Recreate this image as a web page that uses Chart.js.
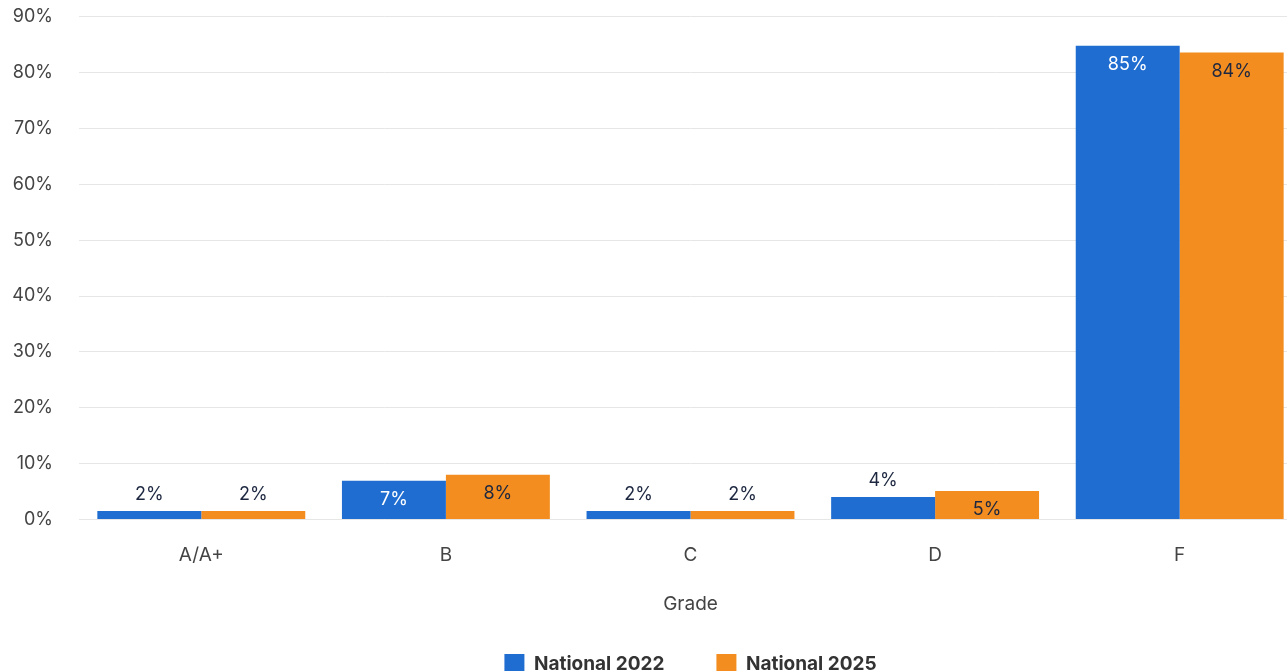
<!DOCTYPE html>
<html>
<head>
<meta charset="utf-8">
<script src="https://cdn.jsdelivr.net/npm/chart.js@4"></script>
<style>
html, body {
    margin: 0;
    padding: 0;
    background: #fff;
    overflow: hidden;
}
#wrap {
    width: 1302px;
    height: 704px;
    position: absolute;
    left: 0;
    top: -20px;
}
</style>
</head>
<body>
<div id="wrap"><canvas id="gradeChart"></canvas></div>
<script>
// grade categories and share of schools per grade (percent)
var grades = ["A/A+", "B", "C", "D", "F"];
var national2022 = [1.5, 6.9, 1.5, 4.0, 84.8];
var national2025 = [1.5, 8.0, 1.5, 5.1, 83.6];
var seriesNames = ["National 2022", "National 2025"];

var BLUE = "#1f6dd0";
var ORANGE = "#f38d1f";
var NAVY = "#1d2740";

// draws the % labels: inside the top of tall bars, above short ones
var barLabels = {
    id: "barLabels",
    afterDatasetsDraw: function(chart) {
        var ctx = chart.ctx;
        ctx.save();
        ctx.font = "18px Inter";
        ctx.textAlign = "center";
        ctx.textBaseline = "middle";
        chart.data.datasets.forEach(function(ds, di) {
            var meta = chart.getDatasetMeta(di);
            meta.data.forEach(function(bar, i) {
                var txt = Math.round(ds.data[i]) + "%";
                var h = bar.base - bar.y;
                if (h > 25) {
                    ctx.fillStyle = di == 0 ? "#ffffff" : NAVY;
                    ctx.fillText(txt, bar.x, bar.y + 19);
                } else {
                    ctx.fillStyle = NAVY;
                    ctx.fillText(txt, bar.x, bar.y - 16);
                }
            });
        });
        ctx.restore();
    }
};

// legend is centred under the plot area, not the whole canvas
var legendShift = {
    id: "legendShift",
    afterLayout: function(chart) {
        var d = (chart.chartArea.left + chart.chartArea.right) / 2 - (chart.legend.left + chart.legend.right) / 2;
        chart.legend.left += d;
        chart.legend.right += d;
    }
};

Chart.defaults.font.family = "Inter";

new Chart(document.getElementById("gradeChart").getContext("2d"), {
    type: "bar",
    data: {
        labels: grades,
        datasets: [{
            label: seriesNames[0],
            data: national2022,
            backgroundColor: BLUE,
            categoryPercentage: 0.85,
            barPercentage: 1
        }, {
            label: seriesNames[1],
            data: national2025,
            backgroundColor: ORANGE,
            categoryPercentage: 0.85,
            barPercentage: 1
        }]
    },
    options: {
        responsive: true,
        maintainAspectRatio: false,
        animation: false,
        layout: {padding: {top: 7, right: 0, left: 0, bottom: 0}},
        scales: {
            x: {
                grid: {display: false, drawTicks: false},
                border: {display: false},
                ticks: {color: "#444", font: {size: 19}, padding: 24},
                title: {
                    display: true,
                    text: "Grade",
                    color: "#444",
                    font: {size: 19},
                    padding: {top: 3, bottom: -14}
                }
            },
            y: {
                min: 0,
                max: 90,
                grid: {color: "#e6e6e6", drawTicks: false},
                border: {display: false},
                ticks: {
                    stepSize: 10,
                    color: "#444",
                    font: {size: 18},
                    padding: 26,
                    callback: function(v) { return v + "%"; }
                },
                afterFit: function(scale) { scale.width = 79; }
            }
        },
        plugins: {
            legend: {
                position: "bottom",
                labels: {
                    boxWidth: 20,
                    boxHeight: 20,
                    padding: 52,
                    color: "#333",
                    font: {size: 19, weight: "bold"}
                }
            },
            tooltip: {enabled: false}
        }
    },
    plugins: [barLabels, legendShift]
});
</script>
</body>
</html>
